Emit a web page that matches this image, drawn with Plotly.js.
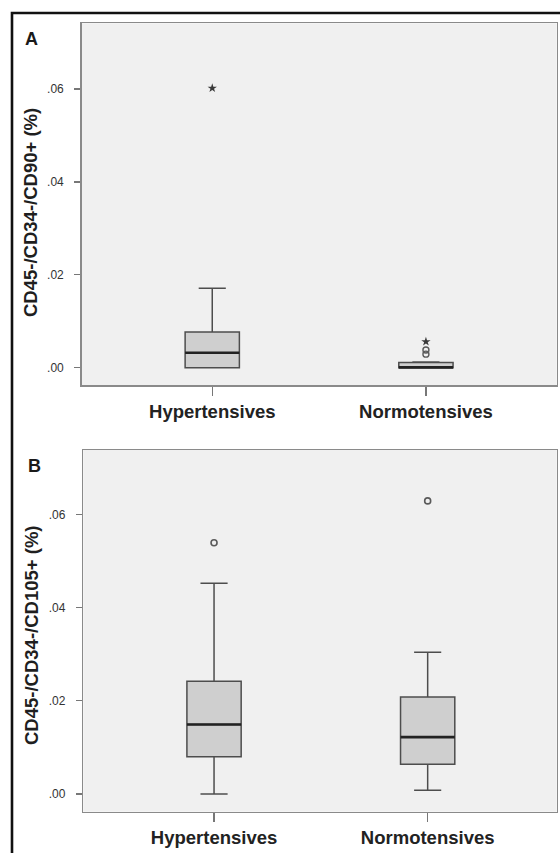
<!DOCTYPE html>
<html>
<head>
<meta charset="utf-8">
<script src="https://cdn.plot.ly/plotly-3.0.1.min.js"></script>
<style>
  html, body { margin: 0; padding: 0; background: #ffffff; }
  #chart { width: 560px; height: 853px; }
</style>
</head>
<body>
<div id="chart"></div>
<script>
// ---- data ----
const categories = ['Hypertensives', 'Normotensives'];
const groupPos = [0, 1];

const yTickVals = [0, 0.02, 0.04, 0.06];
const yTickText = ['.00', '.02', '.04', '.06'];

// Panel A: CD45-/CD34-/CD90+ (%)
const aQ1 = [0.0, 0.0];
const aMedian = [0.0032, 0.00005];
const aQ3 = [0.0077, 0.0011];
const aLowerFence = [0.0, 0.0];
const aUpperFence = [0.0171, 0.0012];
const aCircleGroup = [1, 1];
const aCircleVal = [0.0029, 0.0038];
const aStarGroup = [0, 1];
const aStarVal = [0.0602, 0.0056];

// Panel B: CD45-/CD34-/CD105+ (%)
const bQ1 = [0.0080, 0.0064];
const bMedian = [0.0149, 0.0122];
const bQ3 = [0.0242, 0.0208];
const bLowerFence = [0.0, 0.0008];
const bUpperFence = [0.0452, 0.0304];
const bCircleGroup = [1 - 1, 1];
const bCircleVal = [0.0539, 0.0629];

const titleA = 'CD45-/CD34-/CD90+ (%)';
const titleB = 'CD45-/CD34-/CD105+ (%)';

// ---- styling ----
const W = 560, H = 853;
const FONT = 'Liberation Sans, Arial, sans-serif';
const boxWidth = 0.254;
const boxFill = '#cfcfcf';
const boxLine = '#4d4d4d';

function boxTrace(xa, ya, q1, med, q3, lo, hi) {
  return {
    type: 'box', xaxis: xa, yaxis: ya,
    x: groupPos, q1: q1, median: med, q3: q3,
    lowerfence: lo, upperfence: hi,
    width: boxWidth, whiskerwidth: 0.5,
    fillcolor: boxFill,
    line: { color: boxLine, width: 1.5 },
    boxpoints: false, hoverinfo: 'skip', showlegend: false
  };
}
function medianTrace(xa, ya, med) {
  return {
    type: 'box', xaxis: xa, yaxis: ya,
    x: groupPos, q1: med, median: med, q3: med,
    lowerfence: med, upperfence: med,
    width: boxWidth, whiskerwidth: 0,
    fillcolor: 'rgba(0,0,0,0)',
    line: { color: '#222222', width: 2.6 },
    boxpoints: false, hoverinfo: 'skip', showlegend: false
  };
}
function pointTrace(xa, ya, grp, vals, symbol, size, color, lw) {
  return {
    type: 'scatter', mode: 'markers', xaxis: xa, yaxis: ya,
    x: grp.map(g => groupPos[g]), y: vals,
    marker: { symbol: symbol, size: size, color: color,
              line: { color: color, width: lw } },
    hoverinfo: 'skip', showlegend: false, cliponaxis: false
  };
}

const data = [
  boxTrace('x', 'y', aQ1, aMedian, aQ3, aLowerFence, aUpperFence),
  medianTrace('x', 'y', aMedian),
  pointTrace('x', 'y', aCircleGroup, aCircleVal, 'circle-open', 6, '#5a5a5a', 1.4),
  pointTrace('x', 'y', aStarGroup, aStarVal, 'star', 7, '#3a3a3a', 0),
  boxTrace('x2', 'y2', bQ1, bMedian, bQ3, bLowerFence, bUpperFence),
  medianTrace('x2', 'y2', bMedian),
  pointTrace('x2', 'y2', bCircleGroup, bCircleVal, 'circle-open', 6, '#5a5a5a', 1.6)
];

function xAxis(domain, range, anchor) {
  return {
    domain: domain, range: range, anchor: anchor, type: 'linear',
    tickmode: 'array', tickvals: groupPos, ticktext: categories,
    ticks: 'outside', ticklen: 9, tickwidth: 1.4, tickcolor: '#777777',
    tickfont: { family: FONT, size: 18.5, color: '#222222', weight: 'bold' },
    showline: true, mirror: true, linecolor: '#8a8a8a', linewidth: 1.5,
    showgrid: false, zeroline: false, fixedrange: true
  };
}
function yAxis(domain, range, anchor) {
  return {
    domain: domain, range: range, anchor: anchor,
    tickmode: 'array', tickvals: yTickVals, ticktext: yTickText,
    ticks: 'outside', ticklen: 6, tickwidth: 1.2, tickcolor: '#777777',
    ticklabelstandoff: 8,
    tickfont: { family: FONT, size: 12, color: '#333333' },
    showline: true, mirror: true, linecolor: '#8a8a8a', linewidth: 1.5,
    showgrid: false, zeroline: false, fixedrange: true
  };
}

const layout = {
  width: W, height: H,
  margin: { l: 0, r: 0, t: 0, b: 0, pad: 0 },
  paper_bgcolor: '#ffffff',
  plot_bgcolor: '#f0f0f0',
  boxmode: 'overlay',
  showlegend: false,
  font: { family: FONT },
  xaxis: xAxis([81.7 / W, 556.7 / W], [-0.611, 1.612], 'y'),
  yaxis: yAxis([1 - 385 / H, 1 - 23.3 / H], [-0.00374, 0.07417], 'x'),
  xaxis2: xAxis([83.3 / W, 556.7 / W], [-0.612, 1.604], 'y2'),
  yaxis2: yAxis([1 - 811.7 / H, 1 - 450 / H], [-0.0038, 0.07382], 'x2'),
  shapes: [{
    type: 'rect', xref: 'paper', yref: 'paper',
    x0: 12 / W, x1: 1.1, y0: -0.1, y1: 1 - 13 / H,
    line: { color: '#111111', width: 2.6 }, fillcolor: 'rgba(0,0,0,0)'
  }],
  annotations: [
    { text: 'A', xref: 'paper', yref: 'paper', x: 31 / W, y: 1 - 39 / H,
      xanchor: 'center', yanchor: 'middle', showarrow: false,
      font: { family: FONT, size: 18, color: '#1a1a1a', weight: 'bold' } },
    { text: 'B', xref: 'paper', yref: 'paper', x: 34 / W, y: 1 - 466 / H,
      xanchor: 'center', yanchor: 'middle', showarrow: false,
      font: { family: FONT, size: 18, color: '#1a1a1a', weight: 'bold' } },
    { text: titleA, xref: 'paper', yref: 'paper', x: 30 / W, y: 1 - 213 / H,
      xanchor: 'center', yanchor: 'middle', showarrow: false, textangle: -90,
      font: { family: FONT, size: 18.5, color: '#1f1f1f', weight: 'bold' } },
    { text: titleB, xref: 'paper', yref: 'paper', x: 31 / W, y: 1 - 635 / H,
      xanchor: 'center', yanchor: 'middle', showarrow: false, textangle: -90,
      font: { family: FONT, size: 18.5, color: '#1f1f1f', weight: 'bold' } }
  ]
};

Plotly.newPlot('chart', data, layout, { displayModeBar: false, staticPlot: true });
</script>
</body>
</html>
